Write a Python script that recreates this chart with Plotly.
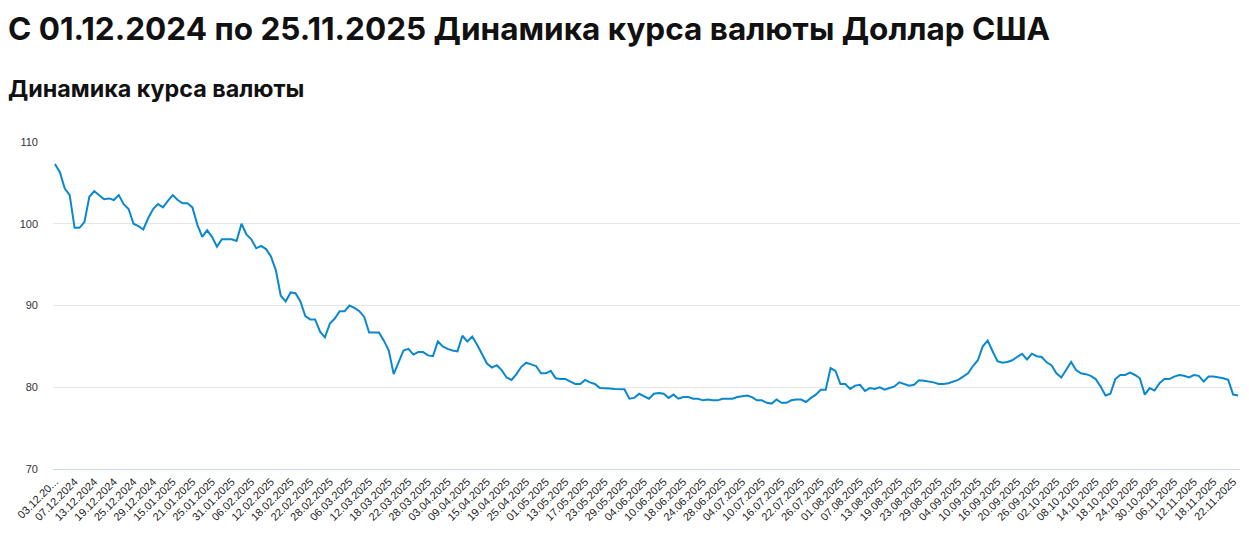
import plotly.graph_objects as go

title_text = "С 01.12.2024 по 25.11.2025 Динамика курса валюты Доллар США"
subtitle_text = "Динамика курса валюты"

# USD/RUB rate values, one per business date from 03.12.2024 to 25.11.2025
rates = [
    107.3, 106.3, 104.3, 103.5, 99.5, 99.5, 100.2, 103.3, 104.0, 103.5,
    103.0, 103.1, 102.9, 103.5, 102.4, 101.8, 100.0, 99.7, 99.3, 100.7,
    101.8, 102.4, 102.0, 102.8, 103.5, 102.9, 102.5, 102.5, 102.0, 99.9,
    98.4, 99.2, 98.4, 97.2, 98.1, 98.1, 98.1, 97.9, 100.0, 98.7,
    98.1, 97.0, 97.3, 96.9, 96.0, 94.3, 91.2, 90.5, 91.6, 91.5,
    90.5, 88.7, 88.3, 88.3, 86.8, 86.1, 87.8, 88.4, 89.3, 89.3,
    90.0, 89.7, 89.3, 88.6, 86.7, 86.7, 86.7, 85.7, 84.5, 81.6,
    83.0, 84.5, 84.7, 84.0, 84.3, 84.3, 83.9, 83.8, 85.6, 85.0,
    84.7, 84.5, 84.4, 86.3, 85.6, 86.2, 85.2, 84.1, 82.9, 82.4,
    82.7, 82.1, 81.2, 80.9, 81.6, 82.5, 83.0, 82.8, 82.6, 81.7,
    81.7, 82.0, 81.1, 81.0, 81.0, 80.7, 80.4, 80.4, 80.9, 80.6,
    80.4, 79.9, 79.9, 79.85, 79.8, 79.8, 79.75, 78.6, 78.7, 79.2,
    78.9, 78.6, 79.2, 79.3, 79.2, 78.7, 79.1, 78.6, 78.8, 78.8,
    78.6, 78.6, 78.4, 78.5, 78.4, 78.4, 78.6, 78.6, 78.6, 78.8,
    78.9, 79.0, 78.8, 78.4, 78.4, 78.1, 78.0, 78.5, 78.1, 78.1,
    78.4, 78.5, 78.5, 78.2, 78.7, 79.1, 79.7, 79.7, 82.35, 82.0,
    80.4, 80.4, 79.8, 80.2, 80.3, 79.55, 79.9, 79.8, 80.0, 79.7,
    79.9, 80.1, 80.6, 80.4, 80.2, 80.3, 80.85, 80.8, 80.7, 80.6,
    80.4, 80.4, 80.5, 80.7, 80.9, 81.3, 81.7, 82.6, 83.3, 85.0,
    85.7, 84.4, 83.2, 83.0, 83.1, 83.3, 83.7, 84.1, 83.4, 84.1,
    83.8, 83.7, 83.05, 82.7, 81.7, 81.2, 82.15, 83.1, 82.1, 81.7,
    81.6, 81.4, 81.0, 80.1, 79.0, 79.2, 81.0, 81.5, 81.5, 81.8,
    81.5, 81.1, 79.1, 79.9, 79.6, 80.5, 81.0, 81.0, 81.3, 81.5,
    81.4, 81.2, 81.5, 81.4, 80.7, 81.3, 81.3, 81.2, 81.1, 80.9,
    79.1, 79.0,
]

# x-axis labels shown (every 4th date)
tick_labels = [
    "03.12.20...", "07.12.2024", "13.12.2024", "19.12.2024", "25.12.2024",
    "29.12.2024", "15.01.2025", "21.01.2025", "25.01.2025", "31.01.2025",
    "06.02.2025", "12.02.2025", "18.02.2025", "22.02.2025", "28.02.2025",
    "06.03.2025", "12.03.2025", "18.03.2025", "22.03.2025", "28.03.2025",
    "03.04.2025", "09.04.2025", "15.04.2025", "19.04.2025", "25.04.2025",
    "01.05.2025", "13.05.2025", "17.05.2025", "23.05.2025", "29.05.2025",
    "04.06.2025", "10.06.2025", "18.06.2025", "24.06.2025", "28.06.2025",
    "04.07.2025", "10.07.2025", "16.07.2025", "22.07.2025", "26.07.2025",
    "01.08.2025", "07.08.2025", "13.08.2025", "19.08.2025", "23.08.2025",
    "29.08.2025", "04.09.2025", "10.09.2025", "16.09.2025", "20.09.2025",
    "26.09.2025", "02.10.2025", "08.10.2025", "14.10.2025", "18.10.2025",
    "24.10.2025", "30.10.2025", "06.11.2025", "12.11.2025", "18.11.2025",
    "22.11.2025",
]
tick_step = 4
y_ticks = [70, 80, 90, 100, 110]

x_idx = list(range(len(rates)))
tick_pos = x_idx[::tick_step][:len(tick_labels)]

# page body has an 8px margin; figure sized to fit the remaining viewport
W, H = 1233, 517
ml, mr, mt, mb = 45, 1, 134, 56
pw, ph = W - ml - mr, H - mt - mb

fig = go.Figure()
fig.add_trace(go.Scatter(
    x=x_idx, y=rates, mode="lines",
    line=dict(color="#0a88cd", width=2),
    hoverinfo="y", showlegend=False,
))

fig.update_layout(
    width=W, height=H,
    margin=dict(l=ml, r=mr, t=mt, b=mb, pad=0, autoexpand=False),
    paper_bgcolor="white", plot_bgcolor="white",
    font=dict(family="Liberation Sans, Arial, sans-serif", color="#333333"),
    xaxis=dict(
        range=[-0.4, len(rates) - 1 + 0.4],
        tickmode="array", tickvals=tick_pos, ticktext=tick_labels,
        tickangle=-45, tickfont=dict(size=11, color="#222222"),
        showgrid=False, zeroline=False, automargin=False,
        showline=True, linecolor="#ccd6eb", linewidth=1,
        ticks="", ticklen=0, ticklabelstandoff=1,
    ),
    yaxis=dict(
        range=[70, 110], tickmode="array", tickvals=y_ticks,
        tickfont=dict(size=11, color="#333333"), automargin=False,
        showgrid=True, gridcolor="#e6e6e6", gridwidth=1,
        zeroline=False, showline=False, ticks="", ticklabelstandoff=14,
    ),
    annotations=[
        dict(text="<b>" + title_text + "</b>", xref="paper", yref="paper",
             x=(-1 - ml) / pw, y=1 + mt / ph,
             xanchor="left", yanchor="top", showarrow=False, borderpad=0,
             font=dict(family="Inter, sans-serif", size=31.5, color="#111111")),
        dict(text="<b>" + subtitle_text + "</b>", xref="paper", yref="paper",
             x=(-1 - ml) / pw, y=1 + (mt - 65) / ph,
             xanchor="left", yanchor="top", showarrow=False, borderpad=0,
             font=dict(family="Inter, sans-serif", size=23.3, color="#111111")),
    ],
)

fig.write_html("out.html")
